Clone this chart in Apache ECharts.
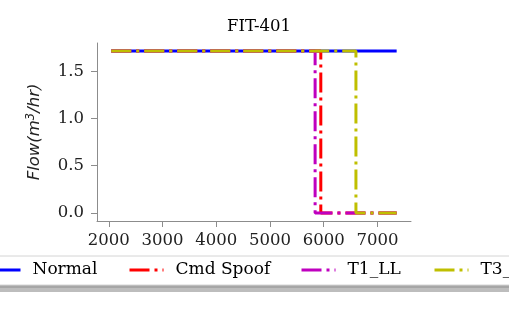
<!DOCTYPE html>
<html>
<head>
<meta charset="utf-8">
<script src="https://cdn.jsdelivr.net/npm/echarts@6/dist/echarts.min.js"></script>
<style>html,body{margin:0;padding:0;background:#fff;}#c{width:509px;height:315px;}</style>
</head>
<body>
<div id="c"></div>
<script>
// Data
var seriesNames = ['Normal', 'Cmd Spoof', 'T1_LL', 'T3_LL'];
var normalData = [[2045, 1.714], [7358, 1.714]];
var cmdSpoofData = [[2045, 1.714], [5946, 1.714], [5946, 0], [7358, 0]];
var t1llData = [[2045, 1.714], [5840, 1.714], [5840, 0], [7358, 0]];
var t3Data = [[2045, 1.714], [6600, 1.714], [6600, 0], [7358, 0]];
var xTicks = [2000, 3000, 4000, 5000, 6000, 7000];
var yTicks = [0, 0.5, 1.0, 1.5];

var colors = ['#0000ff', '#ff0000', '#bf00bf', '#bfbf00'];
var dashDot = [20, 5, 3, 5];
var serif = 'DejaVu Serif';

var chart = echarts.init(document.getElementById('c'), null, {renderer: 'canvas'});

function mkSeries(name, data, color, dash, z) {
  return {
    name: name, type: 'line', data: data, showSymbol: false, symbol: 'none', symbolSize: 0,
    animation: false, z: z,
    lineStyle: {color: color, width: 3, type: dash, cap: 'butt'},
    itemStyle: {color: color}
  };
}
function mkLegend(name, left) {
  return {
    data: [name], left: left, top: 260, padding: 0, itemWidth: 34, itemHeight: 20,
    selectedMode: false,
    itemStyle: {opacity: 0},
    lineStyle: {width: 3, opacity: 1},
    textStyle: {fontFamily: serif, fontSize: 17, color: '#000', padding: [0, 0, 0, 7], lineHeight: 20}
  };
}

var axisGray = '#8c8c8c';
chart.setOption({
  animation: false,
  title: {
    text: 'FIT-401', left: 254, top: 13, textAlign: 'center',
    textStyle: {fontFamily: serif, fontSize: 16.5, fontWeight: 'normal', color: '#000'}
  },
  graphic: [
    {type: 'rect', z: 0, shape: {x: -20, y: 282, width: 560, height: 10, r: 3}, style: {fill: '#bdbdbd'}},
    {type: 'rect', z: 0, shape: {x: -20, y: 282, width: 560, height: 6, r: 0}, style: {fill: '#a6a6a6'}},
    {type: 'rect', z: 1, shape: {x: -20, y: 256, width: 560, height: 29, r: 3}, style: {fill: '#fff', stroke: '#d4d4d4', lineWidth: 1}}
  ],
  legend: [mkLegend(seriesNames[0], -15), mkLegend(seriesNames[1], 128), mkLegend(seriesNames[2], 300), mkLegend(seriesNames[3], 433)],
  grid: {left: 97, right: 98, top: 43, bottom: 94, containLabel: false},
  xAxis: {
    type: 'value', min: 1780, max: 7625,
    splitLine: {show: false},
    axisLine: {show: true, onZero: false, lineStyle: {color: axisGray, width: 1}},
    axisTick: {show: true, length: 6, lineStyle: {color: axisGray}, customValues: xTicks},
    axisLabel: {fontFamily: serif, fontSize: 16.5, color: '#222', margin: 11, customValues: xTicks,
      formatter: function (v) { return String(v); }}
  },
  yAxis: {
    type: 'value', min: -0.0857, max: 1.8,
    name: 'Flow(m{sup|3}/hr)', nameLocation: 'middle', nameGap: 52, nameRotate: 90,
    nameTextStyle: {fontFamily: 'DejaVu Sans', fontStyle: 'italic', fontSize: 16.5, color: '#222',
      rich: {sup: {fontFamily: 'DejaVu Sans', fontStyle: 'italic', fontSize: 11.5, verticalAlign: 'top', padding: [0, 0, 8, 0], color: '#222'}}},
    splitLine: {show: false},
    axisLine: {show: true, onZero: false, lineStyle: {color: axisGray, width: 1}},
    axisTick: {show: true, length: 6, lineStyle: {color: axisGray}, customValues: yTicks},
    axisLabel: {fontFamily: serif, fontSize: 16.5, color: '#222', margin: 13, customValues: yTicks,
      formatter: function (v) { return v.toFixed(1); }}
  },
  series: [
    mkSeries(seriesNames[0], normalData, colors[0], 'solid', 2),
    mkSeries(seriesNames[1], cmdSpoofData, colors[1], dashDot, 3),
    mkSeries(seriesNames[2], t1llData, colors[2], dashDot, 4),
    mkSeries(seriesNames[3], t3Data, colors[3], dashDot, 5)
  ]
});
</script>
</body>
</html>
